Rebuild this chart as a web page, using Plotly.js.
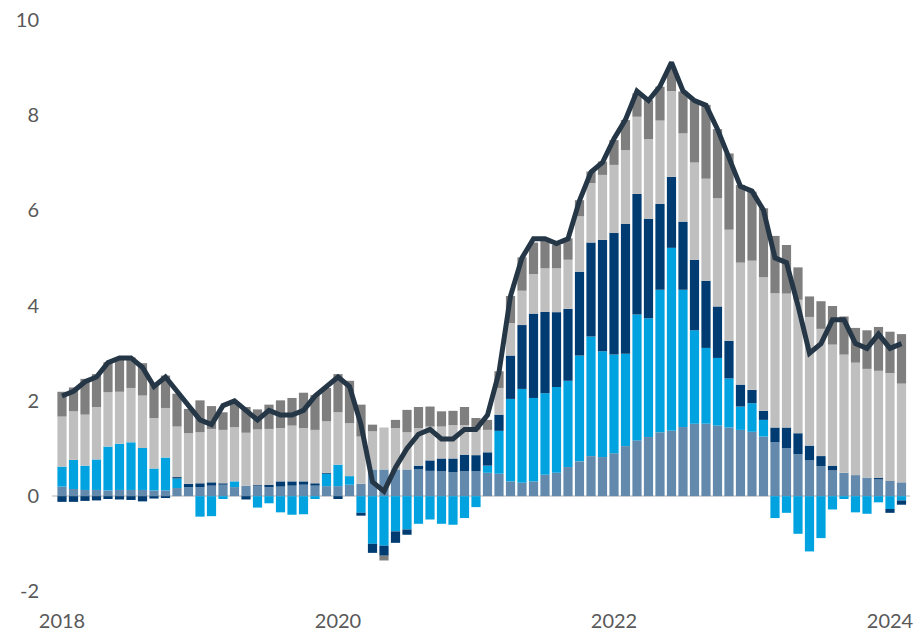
<!DOCTYPE html>
<html>
<head>
<meta charset="utf-8">
<script src="https://cdn.plot.ly/plotly-3.0.1.min.js"></script>
<style>
  html, body { margin: 0; padding: 0; background: #ffffff; }
  #chart { width: 914px; height: 632px; }
</style>
</head>
<body>
<div id="chart"></div>
<script>
// Monthly categories, Jan 2018 – Feb 2024
var months = [
  "2018-01","2018-02","2018-03","2018-04","2018-05","2018-06","2018-07","2018-08","2018-09","2018-10","2018-11","2018-12",
  "2019-01","2019-02","2019-03","2019-04","2019-05","2019-06","2019-07","2019-08","2019-09","2019-10","2019-11","2019-12",
  "2020-01","2020-02","2020-03","2020-04","2020-05","2020-06","2020-07","2020-08","2020-09","2020-10","2020-11","2020-12",
  "2021-01","2021-02","2021-03","2021-04","2021-05","2021-06","2021-07","2021-08","2021-09","2021-10","2021-11","2021-12",
  "2022-01","2022-02","2022-03","2022-04","2022-05","2022-06","2022-07","2022-08","2022-09","2022-10","2022-11","2022-12",
  "2023-01","2023-02","2023-03","2023-04","2023-05","2023-06","2023-07","2023-08","2023-09","2023-10","2023-11","2023-12",
  "2024-01","2024-02"
];

// Contributions (percentage points)
var food = [
  0.20,0.15,0.13,0.13,0.12,0.13,0.13,0.13,0.12,0.12,0.17,0.19,
  0.19,0.22,0.24,0.19,0.22,0.21,0.19,0.20,0.22,0.24,0.22,0.21,
  0.21,0.24,0.26,0.56,0.56,0.56,0.56,0.56,0.53,0.52,0.50,0.52,
  0.52,0.49,0.47,0.31,0.28,0.31,0.45,0.49,0.61,0.73,0.84,0.82,
  0.90,1.05,1.17,1.24,1.34,1.37,1.45,1.52,1.52,1.48,1.44,1.39,
  1.35,1.25,1.13,1.01,0.88,0.75,0.63,0.54,0.49,0.43,0.39,0.35,
  0.32,0.29
];
var energy = [
  0.42,0.61,0.51,0.64,0.92,0.97,1.00,0.88,0.46,0.69,0.20,0.00,
  -0.43,-0.42,-0.06,0.12,0.00,-0.24,-0.15,-0.34,-0.39,-0.38,-0.06,0.26,
  0.45,0.18,-0.35,-1.00,-1.04,-0.74,-0.70,-0.58,-0.49,-0.58,-0.60,-0.46,
  -0.23,0.15,0.90,1.73,1.97,1.75,1.71,1.80,1.81,2.22,2.51,2.22,
  2.07,1.94,2.64,2.49,2.99,3.84,2.88,1.96,1.59,1.42,1.03,0.49,
  0.60,0.35,-0.46,-0.35,-0.79,-1.16,-0.88,-0.28,-0.06,-0.34,-0.37,-0.13,
  -0.27,-0.09
];
var coreGoods = [
  -0.12,-0.12,-0.10,-0.09,-0.06,-0.07,-0.08,-0.11,-0.05,-0.04,0.03,0.07,
  0.08,0.07,0.03,0.00,-0.07,0.02,0.05,0.11,0.09,0.07,0.05,0.02,
  -0.06,0.00,-0.06,-0.19,-0.21,-0.24,-0.11,0.08,0.22,0.27,0.29,0.35,
  0.34,0.28,0.34,0.91,1.34,1.77,1.71,1.57,1.51,1.76,1.97,2.34,
  2.55,2.72,2.53,2.09,1.80,1.49,1.43,1.48,1.41,1.08,0.79,0.46,
  0.28,0.19,0.31,0.43,0.44,0.31,0.21,0.10,0.00,0.01,0.00,0.03,
  -0.08,-0.09
];
var shelter = [
  1.05,1.02,1.07,1.10,1.14,1.09,1.14,1.10,1.06,1.04,1.06,1.06,
  1.07,1.12,1.12,1.14,1.11,1.17,1.17,1.12,1.17,1.12,1.12,1.08,
  1.10,1.11,0.99,0.80,0.88,0.87,0.78,0.79,0.71,0.67,0.70,0.62,
  0.53,0.47,0.56,0.68,0.72,0.83,0.91,0.92,1.03,1.16,1.25,1.36,
  1.43,1.55,1.62,1.67,1.75,1.80,1.85,2.04,2.14,2.27,2.33,2.56,
  2.71,2.80,2.82,2.81,2.80,2.70,2.67,2.54,2.48,2.36,2.28,2.25,
  2.26,2.07
];
var servicesExShelter = [
  0.52,0.50,0.75,0.69,0.63,0.71,0.64,0.68,0.71,0.68,0.69,0.51,
  0.67,0.48,0.37,0.53,0.54,0.42,0.51,0.58,0.58,0.74,0.73,0.70,
  0.80,0.89,0.67,0.14,-0.10,0.17,0.47,0.44,0.42,0.32,0.30,0.38,
  0.25,0.21,0.35,0.57,0.70,0.66,0.58,0.49,0.45,0.34,0.24,0.28,
  0.52,0.63,0.49,0.82,0.71,0.51,0.88,1.31,1.55,1.45,1.60,1.63,
  1.45,1.45,1.20,1.02,0.68,0.43,0.58,0.81,0.80,0.73,0.81,0.92,
  0.87,1.04
];
// Headline inflation (%)
var headline = [
  2.1,2.2,2.4,2.5,2.8,2.9,2.9,2.7,2.3,2.5,2.2,1.9,
  1.6,1.5,1.9,2.0,1.8,1.6,1.8,1.7,1.7,1.8,2.1,2.3,
  2.5,2.3,1.5,0.3,0.1,0.6,1.0,1.3,1.4,1.2,1.2,1.4,
  1.4,1.7,2.6,4.2,5.0,5.4,5.4,5.3,5.4,6.2,6.8,7.0,
  7.5,7.9,8.5,8.3,8.6,9.1,8.5,8.3,8.2,7.7,7.1,6.5,
  6.4,6.0,5.0,4.9,4.0,3.0,3.2,3.7,3.7,3.2,3.1,3.4,
  3.1,3.2
];

var tickMonths = ["2018-01","2020-01","2022-01","2024-01"];
var tickLabels = ["2018","2020","2022","2024"];
var yTicks = [-2,0,2,4,6,8,10];

var seriesDefs = [
  {name: "Food", y: food, color: "#6389AC"},
  {name: "Energy", y: energy, color: "#00A3E0"},
  {name: "Core goods", y: coreGoods, color: "#003B71"},
  {name: "Shelter", y: shelter, color: "#BFBFBF"},
  {name: "Services ex. shelter", y: servicesExShelter, color: "#7F7F7F"}
];

var traces = seriesDefs.map(function (s) {
  return {
    type: "bar",
    name: s.name,
    x: months,
    y: s.y,
    marker: {color: s.color, line: {width: 0}},
    hoverinfo: "x+y+name"
  };
});
traces.push({
  type: "scatter",
  mode: "lines",
  name: "Headline",
  x: months,
  y: headline,
  line: {color: "#253746", width: 5}
});

var tickFont = {family: "Lato, 'Open Sans', sans-serif", size: 20, color: "#595959"};

var layout = {
  width: 914,
  height: 632,
  margin: {l: 52, r: 4, t: 10, b: 31, pad: 0},
  paper_bgcolor: "#ffffff",
  plot_bgcolor: "#ffffff",
  barmode: "relative",
  bargap: 0.2,
  showlegend: false,
  xaxis: {
    type: "category",
    range: [-0.87, 73.74],
    tickvals: tickMonths,
    ticktext: tickLabels,
    ticks: "",
    ticklabelstandoff: 6,
    showgrid: false,
    zeroline: false,
    showline: false,
    tickfont: tickFont
  },
  yaxis: {
    range: [-2.2, 10.2],
    tickvals: yTicks,
    ticktext: yTicks.map(String),
    ticks: "",
    ticklabelstandoff: 12,
    showgrid: false,
    zeroline: true,
    zerolinecolor: "#D9D9D9",
    zerolinewidth: 2,
    showline: false,
    tickfont: tickFont
  }
};

Plotly.newPlot("chart", traces, layout, {displayModeBar: false, staticPlot: true});
</script>
</body>
</html>
